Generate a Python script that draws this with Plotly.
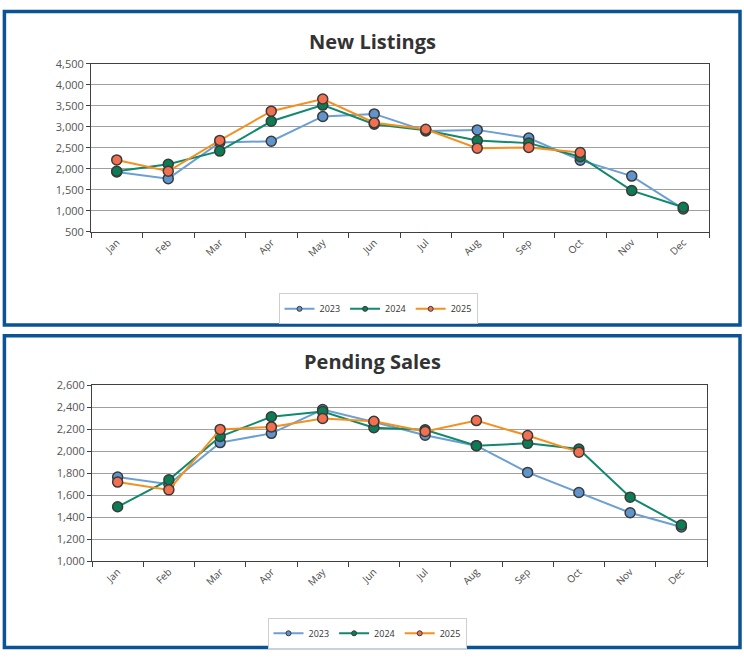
import plotly.graph_objects as go

months = ["Jan", "Feb", "Mar", "Apr", "May", "Jun", "Jul", "Aug", "Sep", "Oct", "Nov", "Dec"]
series_names = ["2023", "2024", "2025"]

listings_2023 = [1925, 1765, 2625, 2655, 3245, 3305, 2900, 2925, 2730, 2205, 1825, 1045]
listings_2024 = [1940, 2105, 2420, 3130, 3515, 3060, 2915, 2670, 2610, 2285, 1480, 1085]
listings_2025 = [2210, 1940, 2675, 3370, 3660, 3095, 2940, 2490, 2505, 2385]

pending_2023 = [1765, 1700, 2078, 2162, 2378, 2266, 2145, 2050, 1807, 1624, 1440, 1310]
pending_2024 = [1494, 1739, 2133, 2313, 2360, 2213, 2195, 2050, 2071, 2020, 1582, 1328]
pending_2025 = [1719, 1648, 2198, 2221, 2298, 2272, 2180, 2278, 2142, 1991]

line_colors = ["#6c9fd3", "#10896c", "#f5901f"]
marker_colors = ["#5f95cc", "#0b7d55", "#f2704f"]

W, H = 744, 659
def px_x(p): return p / W
def px_y(p): return 1 - p / H

fig = go.Figure()

top_data = [listings_2023, listings_2024, listings_2025]
bot_data = [pending_2023, pending_2024, pending_2025]

for axes, legend_name, data in (("x", "legend", top_data), ("x2", "legend2", bot_data)):
    yax = "y" if axes == "x" else "y2"
    for i, (name, vals) in enumerate(zip(series_names, data)):
        fig.add_trace(go.Scatter(
            x=months[:len(vals)], y=vals, name=name, mode="lines+markers",
            line=dict(color=line_colors[i], width=2),
            marker=dict(size=10, color=marker_colors[i], line=dict(color="#3a3a3a", width=1.5)),
            xaxis=axes, yaxis=yax, showlegend=False))
    for i, name in enumerate(series_names):
        # legend-only entry with a smaller marker, as in the reference legend
        fig.add_trace(go.Scatter(
            x=[None], y=[None], name=name, mode="lines+markers",
            line=dict(color=line_colors[i], width=2),
            marker=dict(size=5, color=marker_colors[i], line=dict(color="#3a3a3a", width=1)),
            xaxis=axes, yaxis=yax, legend=legend_name, showlegend=True))

font_family = "Open Sans, Noto Sans, DejaVu Sans, sans-serif"

xaxis_common = dict(
    type="category", categoryorder="array", categoryarray=months,
    range=[-0.5, 11.5], tickson="boundaries", ticks="outside", ticklen=5,
    tickcolor="#404040", tickangle=-45, showline=True, linecolor="#404040",
    linewidth=1, mirror=True, showgrid=False,
    tickfont=dict(family=font_family, size=10, color="#4a4a4a"),
)
yaxis_common = dict(
    ticks="outside", ticklen=4, tickcolor="#404040", showline=True,
    linecolor="#404040", linewidth=1, mirror=True, showgrid=True,
    gridcolor="#a0a0a0", gridwidth=1, tickformat=",d", zeroline=False,
    tickfont=dict(family=font_family, size=11, color="#555555"),
)

fig.update_layout(
    width=W, height=H, margin=dict(l=0, r=0, t=0, b=0),
    paper_bgcolor="white", plot_bgcolor="white",
    font=dict(family=font_family),
    xaxis=dict(domain=[px_x(91), px_x(709)], anchor="y", **xaxis_common),
    yaxis=dict(domain=[px_y(229), px_y(57)], anchor="x", range=[500, 4500], dtick=500, tick0=500, **yaxis_common),
    xaxis2=dict(domain=[px_x(92), px_x(707)], anchor="y2", **xaxis_common),
    yaxis2=dict(domain=[px_y(566), px_y(386)], anchor="x2", range=[1000, 2600], dtick=200, tick0=1000, **yaxis_common),
    legend=dict(orientation="h", x=px_x(378), xanchor="center", y=px_y(292), yanchor="top",
                bordercolor="#cfcfcf", borderwidth=1, font=dict(size=9, color="#333333"),
                itemwidth=30, tracegroupgap=0),
    legend2=dict(orientation="h", x=px_x(367), xanchor="center", y=px_y(624), yanchor="top",
                 bordercolor="#cfcfcf", borderwidth=1, font=dict(size=9, color="#333333"),
                 itemwidth=30, tracegroupgap=0),
    annotations=[
        dict(text="<b>New Listings</b>", x=px_x(372), y=px_y(34), xref="paper", yref="paper",
             showarrow=False, xanchor="center", yanchor="middle",
             font=dict(family=font_family, size=20, color="#333333")),
        dict(text="<b>Pending Sales</b>", x=px_x(372), y=px_y(362), xref="paper", yref="paper",
             showarrow=False, xanchor="center", yanchor="middle",
             font=dict(family=font_family, size=20, color="#333333")),
    ],
    shapes=[
        dict(type="rect", xref="paper", yref="paper", x0=px_x(4.4), x1=px_x(740), y0=px_y(324.3), y1=px_y(3.6),
             line=dict(color="#0b5394", width=3.5), fillcolor="rgba(0,0,0,0)"),
        dict(type="rect", xref="paper", yref="paper", x0=px_x(4.4), x1=px_x(740), y0=px_y(654.3), y1=px_y(335.3),
             line=dict(color="#0b5394", width=3.5), fillcolor="rgba(0,0,0,0)"),
    ],
)

page_fix = (
    "document.documentElement.style.margin='0px';"
    "document.body.style.margin='0px';"
    "document.body.style.overflow='hidden';"
    "window.scrollTo(0,0);"
)
fig.write_html("out.html", config={"displayModeBar": False}, post_script=[page_fix])
